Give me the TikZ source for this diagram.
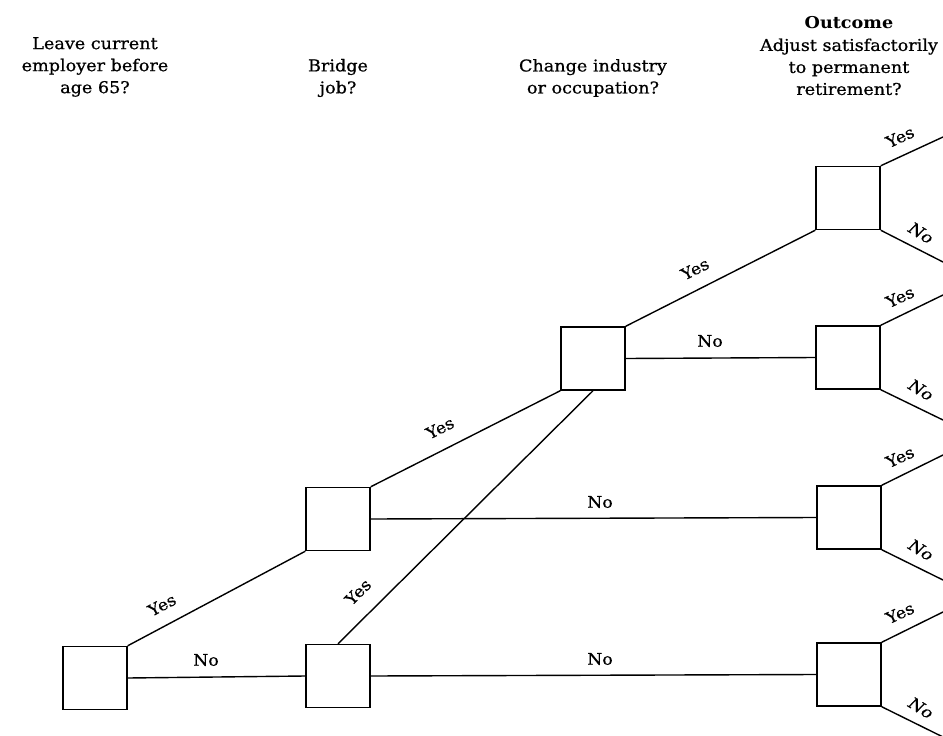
\documentclass[tikz,border=0pt]{standalone}
\usepackage{fontspec}
\setmainfont[FakeStretch=1.08,FakeBold=0.7,BoldFeatures={FakeBold=0}]{DejaVu Serif}
\begin{document}
\begin{tikzpicture}[x=1pt,y=-1pt,
  dbox/.style={draw,line width=1.5pt,minimum width=64pt,minimum height=63pt,inner sep=0pt},
  conn/.style={line width=1.4pt},
  head/.style={align=center,font=\fontsize{16.3}{22}\selectfont,inner sep=0pt},
  lab/.style={font=\fontsize{16}{18}\selectfont,inner sep=0pt}]
\useasboundingbox (0,0) rectangle (943,736);
% headers
\node[head] (h1) at (95,67) {Leave current\\employer before\\age 65?};
\node[head] (h2) at (338,78) {Bridge\\job?};
\node[head] (h3) at (593,78) {Change industry\\or occupation?};
\node[head] (h4) at (849,56) {\textbf{Outcome}\\Adjust satisfactorily\\to permanent\\retirement?};
% boxes
\node[dbox] (A) at (95,678) {};
\node[dbox] (B1) at (338,519) {};
\node[dbox] (B2) at (338,676) {};
\node[dbox] (C) at (593,358.5) {};
\node[dbox] (O1) at (848,198) {};
\node[dbox] (O2) at (848,357.5) {};
\node[dbox] (O3) at (849,517.5) {};
\node[dbox] (O4) at (849,674.5) {};
% outcome branch ends
\coordinate (O1y) at (943,137);
\coordinate (O1n) at (943,262);
\coordinate (O2y) at (943,295);
\coordinate (O2n) at (943,420);
\coordinate (O3y) at (943,455);
\coordinate (O3n) at (943,580);
\coordinate (O4y) at (943,612);
\coordinate (O4n) at (943,737);
% connectors
\draw[conn] (A.north east) -- (B1.south west);
\draw[conn] (A.east) -- (B2.west);
\draw[conn] (B1.north east) -- (C.south west);
\draw[conn] (B1.east) -- (O3.west);
\draw[conn] (B2.north) -- (C.south);
\draw[conn] (B2.east) -- (O4.west);
\draw[conn] (C.north east) -- (O1.south west);
\draw[conn] (C.east) -- (O2.west);
\foreach \o in {O1,O2,O3,O4}{
  \draw[conn] (\o.north east) -- (\o y);
  \draw[conn] (\o.south east) -- (\o n);
}
% labels
\node[lab,rotate=28] (l1) at (162,605) {Yes};
\node[lab] (l2) at (206,660) {No};
\node[lab,rotate=27] (l3) at (440,428) {Yes};
\node[lab,rotate=45] (l4) at (358,592) {Yes};
\node[lab] (l5) at (600,502) {No};
\node[lab] (l6) at (600,659) {No};
\node[lab,rotate=27] (l7) at (695,269) {Yes};
\node[lab] (l8) at (710,341) {No};
\foreach \o/\yy/\ny in {O1/137/233, O2/297/390, O3/457/550, O4/613/708}{
  \node[lab,rotate=25] at (900,\yy) {Yes};
  \node[lab,rotate=-32] at (921,\ny) {\textit{No}};
}
\end{tikzpicture}
\end{document}
